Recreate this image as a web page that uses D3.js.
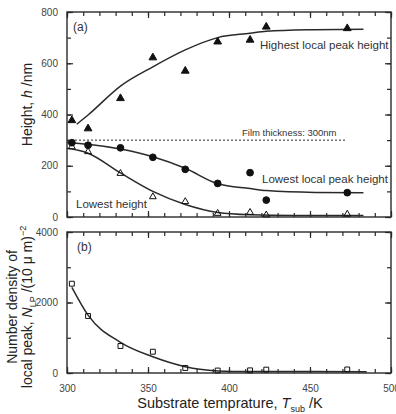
<!DOCTYPE html>
<html>
<head>
<meta charset="utf-8">
<script src="https://cdn.jsdelivr.net/npm/d3@7"></script>
<style>
  body { margin: 0; background: #fff; }
  svg { display: block; font-family: "Liberation Sans", Arial, sans-serif; }
</style>
</head>
<body>
<div id="chart"></div>
<script>
// substrate temperatures (K)
const temps = [303, 313, 333, 353, 373, 393, 413, 423, 473];

// panel (a): heights in nm
const highestPeak = [377, 345, 463, 622, 570, 684, 691, 742, 736];
const lowestPeak = [290, 280, 270, 233, 186, 131, 173, 66, 95];
const lowestHeight = [274, 255, 170, 79, 60, 14, 18, 8, 11];

// fitted curves
const highestFitT = [306, 313, 333, 353, 373, 393, 413, 423, 450, 483];
const highestFitV = [362, 398, 511, 586, 652, 700, 717, 725, 731, 733];
const lowestPeakFitT = [300, 313, 333, 353, 373, 393, 413, 423, 453, 483];
const lowestPeakFitV = [291, 284, 265, 235, 190, 130, 111, 103, 96, 95];
const lowestHeightFitT = [300, 313, 333, 353, 373, 393, 413, 440, 483];
const lowestHeightFitV = [268, 249, 172, 100, 49, 18, 9, 6, 6];

const filmThickness = 300;

// panel (b): number density of local peak
const density = [2533, 1617, 766, 604, 142, 70, 75, 95, 100];
const densityFitT = [303, 313, 333, 353, 373, 382, 393, 413, 450, 485];
const densityFitV = [2430, 1640, 870, 460, 180, 105, 60, 42, 40, 37];

const xTicks = [300, 350, 400, 450, 500];
const aTicks = [0, 200, 400, 600, 800];
const bTicks = [0, 2000, 4000];

const width = 396, height = 414;
const left = 67, right = 391;
const aTop = 12, aBottom = 217;
const bTop = 232, bBottom = 373;
const ink = "#2a2a2a";

const svg = d3.select("#chart").append("svg")
    .attr("width", width)
    .attr("height", height);

const x = d3.scaleLinear().domain([300, 500]).range([left, right]);
const yA = d3.scaleLinear().domain([0, 800]).range([aBottom, aTop]);
const yB = d3.scaleLinear().domain([0, 4000]).range([bBottom, bTop]);

function frame(y0, y1, yScale, majors, minorStep, showX) {
    const minorX = d3.range(300, 501, 10);
    const minorY = d3.range(0, yScale.domain()[1] + 1, minorStep);

    const axes = [
        [d3.axisBottom(x).tickValues(minorX).tickSize(-4).tickFormat(""), `translate(0,${y1})`],
        [d3.axisTop(x).tickValues(minorX).tickSize(-4).tickFormat(""), `translate(0,${y0})`],
        [d3.axisBottom(x).tickValues(xTicks).tickSize(-6).tickFormat(""), `translate(0,${y1})`],
        [d3.axisTop(x).tickValues(xTicks).tickSize(-6).tickFormat(""), `translate(0,${y0})`],
        [d3.axisLeft(yScale).tickValues(minorY).tickSize(-4).tickFormat(""), `translate(${left},0)`],
        [d3.axisRight(yScale).tickValues(minorY).tickSize(-4).tickFormat(""), `translate(${right},0)`],
        [d3.axisLeft(yScale).tickValues(majors).tickSize(-6).tickPadding(9).tickFormat(d3.format("d")), `translate(${left},0)`],
        [d3.axisRight(yScale).tickValues(majors).tickSize(-6).tickFormat(""), `translate(${right},0)`]
    ];
    if (showX) {
        axes.push([d3.axisBottom(x).tickValues(xTicks).tickSize(0).tickPadding(12).tickFormat(d3.format("d")), `translate(0,${y1})`]);
    }
    axes.forEach(([ax, tr]) => {
        const g = svg.append("g").attr("transform", tr).call(ax);
        g.select(".domain").remove();
        g.selectAll("line").attr("stroke", ink).attr("stroke-width", 1.2);
        g.selectAll("text").attr("font-size", 10).attr("fill", "#444")
            .attr("font-family", "Liberation Sans, Arial, sans-serif");
    });

    svg.append("rect")
        .attr("x", left).attr("y", y0)
        .attr("width", right - left).attr("height", y1 - y0)
        .attr("fill", "none").attr("stroke", ink).attr("stroke-width", 1.4);
}

frame(aTop, aBottom, yA, aTicks, 100, false);
frame(bTop, bBottom, yB, bTicks, 1000, true);

// film thickness reference line
svg.append("line")
    .attr("x1", x(300)).attr("x2", x(472))
    .attr("y1", yA(filmThickness)).attr("y2", yA(filmThickness))
    .attr("stroke", ink).attr("stroke-width", 1)
    .attr("stroke-dasharray", "2,2");

function fitLine(ts, vs, yScale) {
    const line = d3.line()
        .x(d => x(d[0]))
        .y(d => yScale(d[1]))
        .curve(d3.curveMonotoneX);
    svg.append("path")
        .datum(d3.zip(ts, vs))
        .attr("fill", "none")
        .attr("stroke", ink)
        .attr("stroke-width", 1.5)
        .attr("d", line);
}

fitLine(highestFitT, highestFitV, yA);
fitLine(lowestPeakFitT, lowestPeakFitV, yA);
fitLine(lowestHeightFitT, lowestHeightFitV, yA);
fitLine(densityFitT, densityFitV, yB);

function markers(vals, yScale, type, size, filled) {
    svg.append("g").selectAll("path")
        .data(d3.zip(temps, vals))
        .join("path")
        .attr("transform", d => `translate(${x(d[0])},${yScale(d[1])})`)
        .attr("d", d3.symbol().type(type).size(size))
        .attr("fill", filled ? "#111" : "none")
        .attr("stroke", "#111")
        .attr("stroke-width", 1);
}

markers(highestPeak, yA, d3.symbolTriangle, 26, true);
markers(lowestPeak, yA, d3.symbolCircle, 36, true);
markers(lowestHeight, yA, d3.symbolTriangle, 20, false);
markers(density, yB, d3.symbolSquare, 24, false);

// annotations
function label(tx, ty, str, size) {
    svg.append("text")
        .attr("x", tx).attr("y", ty)
        .attr("font-size", size)
        .attr("fill", "#333")
        .text(str);
}
label(73, 31, "(a)", 12);
label(77, 251, "(b)", 12);
label(260, 49, "Highest local peak height", 11.5);
label(242, 136, "Film thickness: 300nm", 9.5);
label(262, 183, "Lowest local peak height", 11.5);
label(76, 208, "Lowest height", 11.5);

// y title (a)
const ya = svg.append("text")
    .attr("transform", `translate(32,${(aTop + aBottom) / 2 - 10}) rotate(-90)`)
    .attr("text-anchor", "middle")
    .attr("font-size", 14)
    .attr("fill", "#222");
ya.append("tspan").text("Height, ");
ya.append("tspan").attr("font-style", "italic").text("h");
ya.append("tspan").text(" /nm");

// y title (b), two lines
svg.append("text")
    .attr("transform", `translate(17,307) rotate(-90)`)
    .attr("text-anchor", "middle")
    .attr("font-size", 14)
    .attr("fill", "#222")
    .text("Number density of");

const yb = svg.append("text")
    .attr("transform", `translate(32,307) rotate(-90)`)
    .attr("text-anchor", "middle")
    .attr("font-size", 14)
    .attr("fill", "#222");
yb.append("tspan").text("local peak, ");
yb.append("tspan").attr("font-style", "italic").text("N");
yb.append("tspan").attr("font-size", 9).attr("dy", 4).text("LP");
yb.append("tspan").attr("dy", -4).text(" /(10 \u03bc m)");
yb.append("tspan").attr("font-size", 9).attr("dy", -6).text("\u22122");

// x title
const xt = svg.append("text")
    .attr("x", 230).attr("y", 408)
    .attr("text-anchor", "middle")
    .attr("font-size", 14.5)
    .attr("fill", "#222");
xt.append("tspan").text("Substrate temprature, ");
xt.append("tspan").attr("font-style", "italic").text("T");
xt.append("tspan").attr("font-size", 9).attr("dy", 4).text("sub");
xt.append("tspan").attr("dy", -4).text(" /K");
</script>
</body>
</html>
